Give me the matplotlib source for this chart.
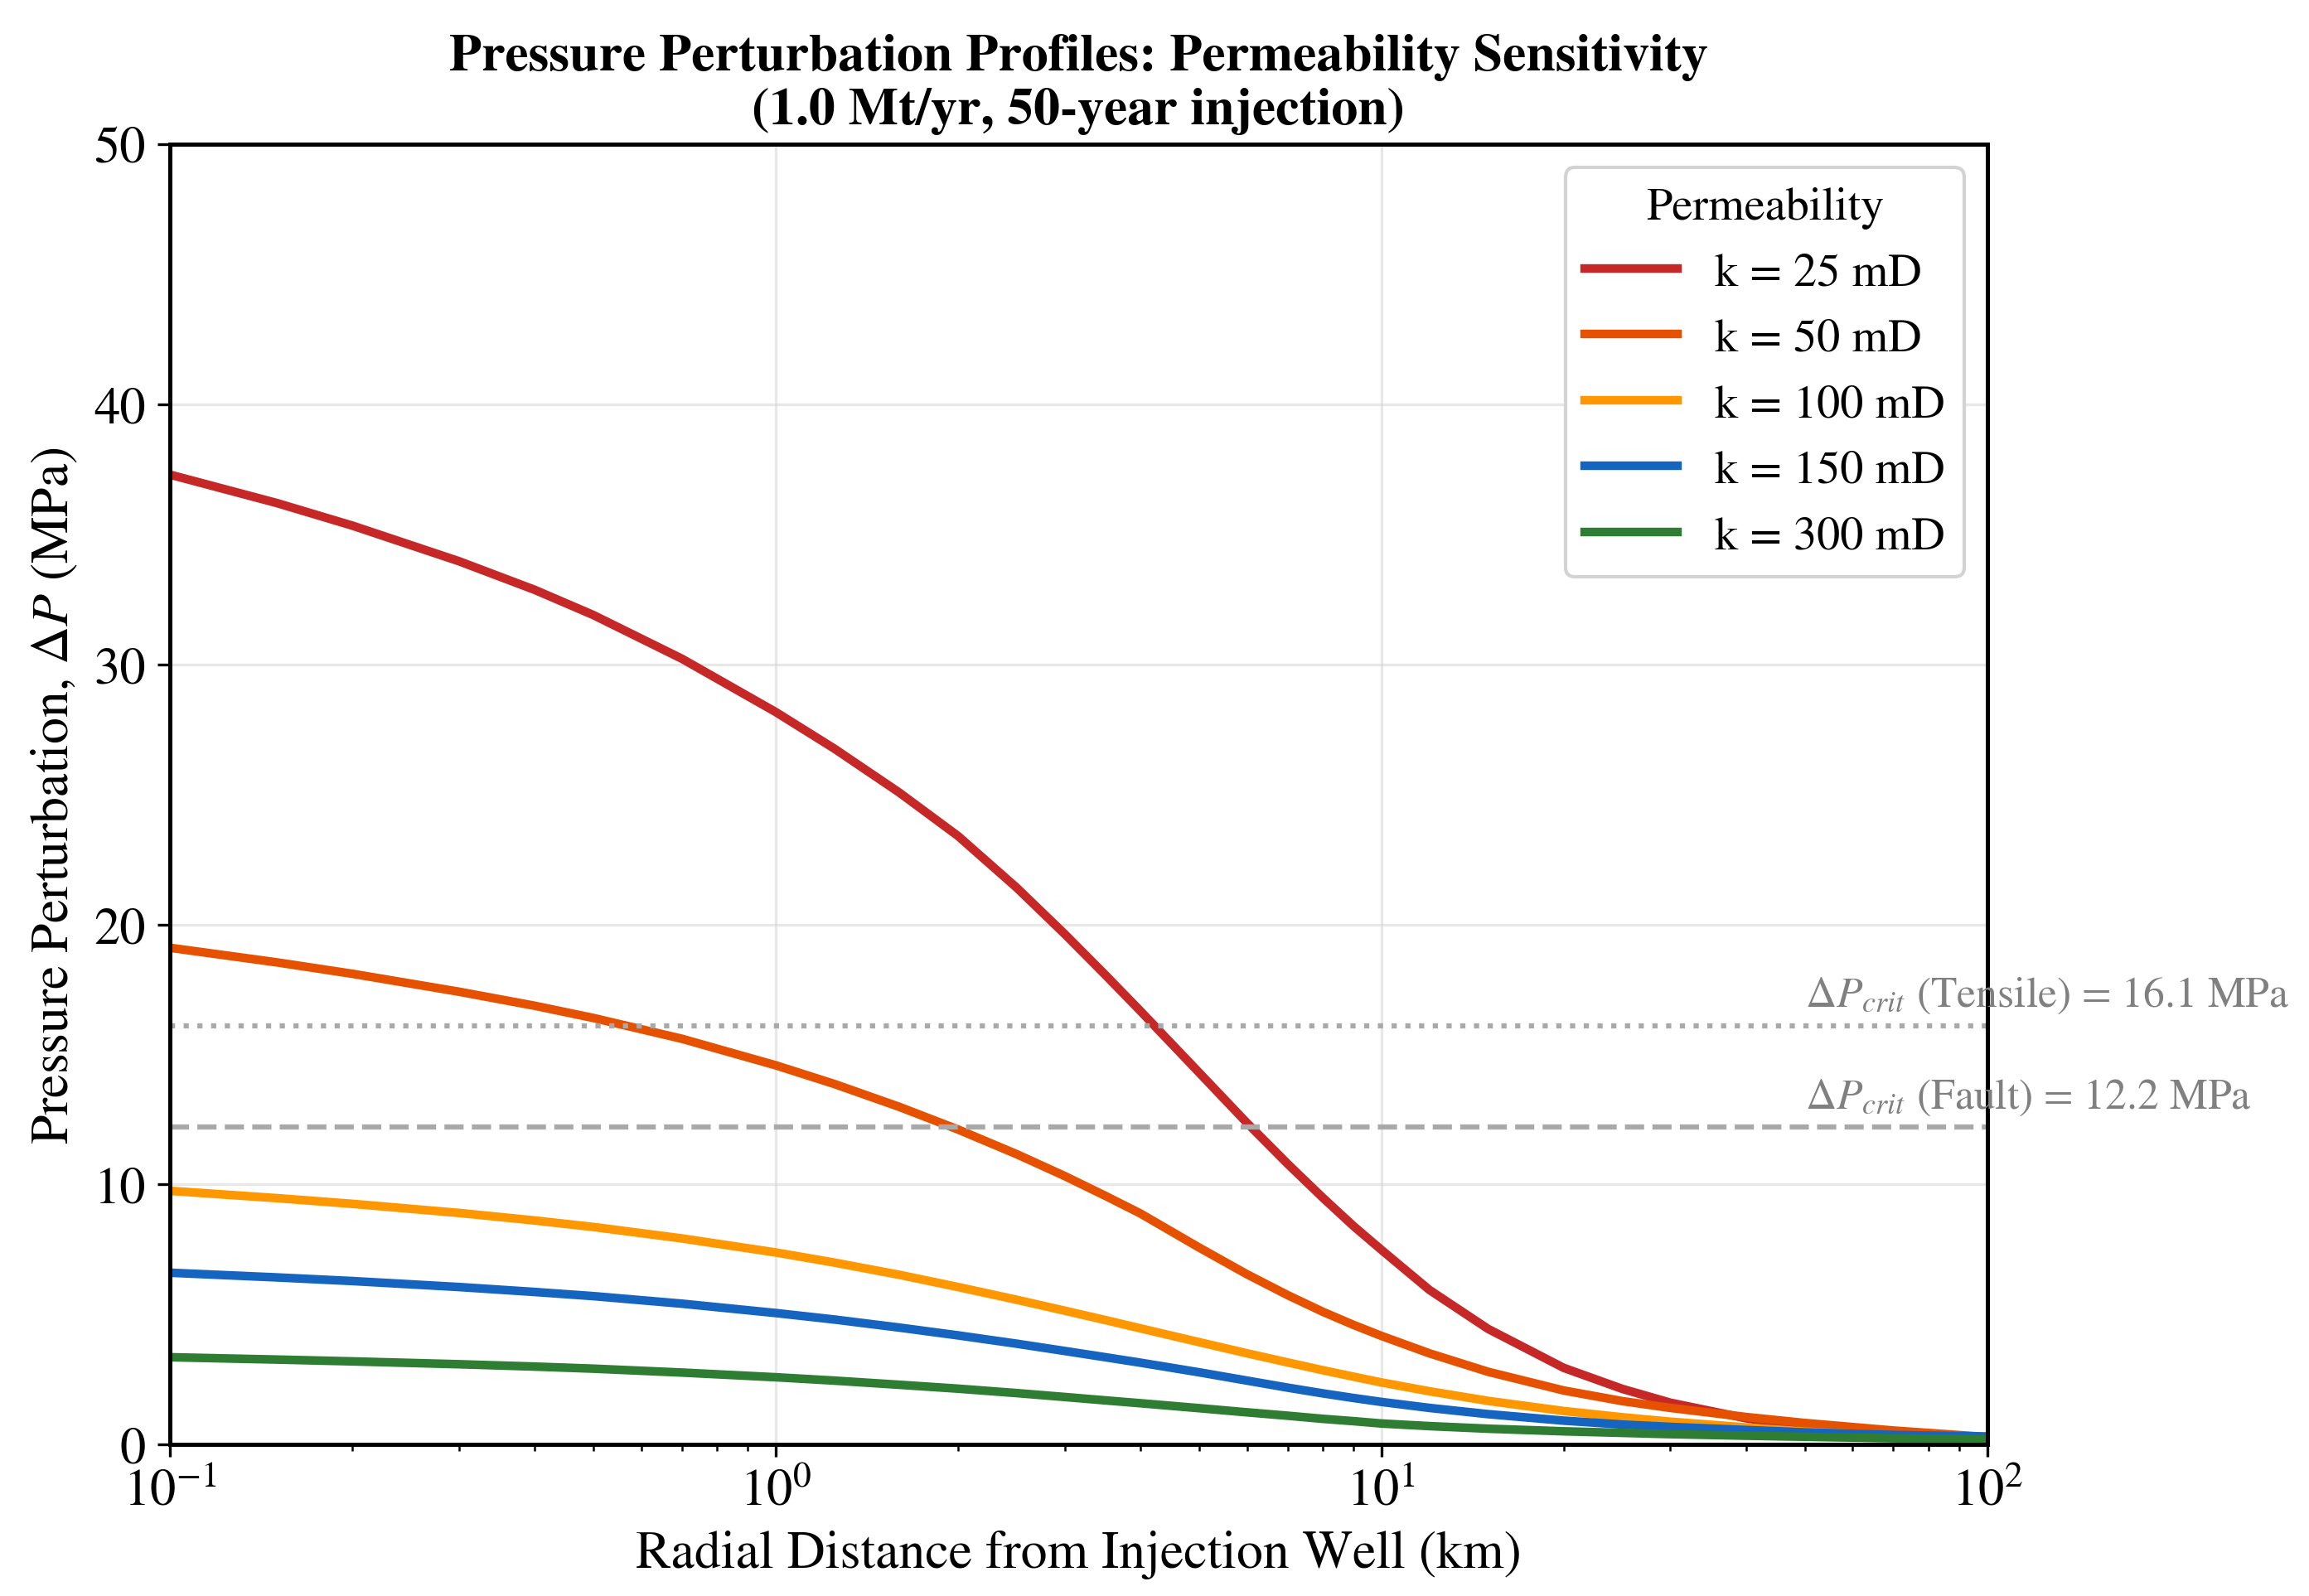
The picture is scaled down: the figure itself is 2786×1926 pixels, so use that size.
import matplotlib
matplotlib.use('Agg')
import matplotlib.pyplot as plt
import numpy as np

plt.rcParams['font.family'] = 'serif'
plt.rcParams['font.serif'] = ['STIXGeneral', 'Liberation Serif', 'DejaVu Serif']
plt.rcParams['mathtext.fontset'] = 'stix'

# radial distance (km) and pressure perturbation (MPa)
r_km = [0.1, 0.15, 0.2, 0.3, 0.4, 0.5, 0.7, 1, 1.25, 1.6, 2, 2.5, 3, 3.5, 4,
        5, 6, 7, 8, 9, 10, 12, 15, 20, 25, 30, 40, 50, 70, 100]
dp_25 = [37.3, 36.21, 35.34, 33.97, 32.87, 31.9, 30.22, 28.17, 26.76, 25.07,
         23.4, 21.41, 19.63, 18.06, 16.67, 14.3, 12.36, 10.79, 9.49, 8.39,
         7.48, 5.94, 4.44, 2.94, 2.13, 1.6, 1.0, 0.67, 0.38, 0.25]
dp_50 = [19.1, 18.54, 18.1, 17.41, 16.87, 16.4, 15.6, 14.58, 13.86, 12.98,
         12.11, 11.16, 10.32, 9.56, 8.88, 7.57, 6.54, 5.74, 5.1, 4.59,
         4.17, 3.5, 2.79, 2.07, 1.66, 1.4, 1.05, 0.82, 0.53, 0.28]
dp_100 = [9.75, 9.47, 9.25, 8.9, 8.61, 8.36, 7.92, 7.38, 6.99, 6.52,
          6.05, 5.56, 5.14, 4.78, 4.46, 3.93, 3.5, 3.15, 2.85, 2.6,
          2.38, 2.04, 1.67, 1.28, 1.04, 0.87, 0.65, 0.49, 0.33, 0.25]
dp_150 = [6.6, 6.42, 6.28, 6.05, 5.86, 5.7, 5.41, 5.05, 4.8, 4.49,
          4.19, 3.87, 3.59, 3.35, 3.14, 2.77, 2.45, 2.18, 1.96, 1.78,
          1.63, 1.4, 1.16, 0.91, 0.76, 0.67, 0.55, 0.46, 0.36, 0.3]
dp_300 = [3.35, 3.26, 3.19, 3.08, 2.99, 2.91, 2.76, 2.58, 2.45, 2.29,
          2.14, 1.97, 1.82, 1.69, 1.58, 1.39, 1.23, 1.1, 0.98, 0.89,
          0.8, 0.7, 0.6, 0.5, 0.44, 0.39, 0.33, 0.29, 0.23, 0.18]

perm_labels = ['k = 25 mD', 'k = 50 mD', 'k = 100 mD', 'k = 150 mD', 'k = 300 mD']
colors = ['#C62828', '#E65100', '#FF9800', '#1565C0', '#2E7D32']

dp_tensile = 16.1
dp_fault = 12.2

fig = plt.figure(figsize=(2786/300, 1927/300), dpi=300)
ax = fig.add_axes([0.0736, 0.095, 0.787, 0.814])

for dp, lab, c in zip([dp_25, dp_50, dp_100, dp_150, dp_300], perm_labels, colors):
    ax.plot(r_km, dp, color=c, lw=2.5, label=lab)

ax.axhline(dp_tensile, color='darkgray', ls=':', lw=1.5)
ax.axhline(dp_fault, color='darkgray', ls='--', lw=1.5)
ax.text(50, dp_tensile + 0.4, r'$\Delta P_{crit}$ (Tensile) = %.1f MPa' % dp_tensile,
        color='gray', fontsize=12.4, va='bottom', ha='left')
ax.text(50, dp_fault + 0.4, r'$\Delta P_{crit}$ (Fault) = %.1f MPa' % dp_fault,
        color='gray', fontsize=12.4, va='bottom', ha='left')

ax.set_xscale('log')
ax.set_xlim(0.1, 100)
ax.set_ylim(0, 50)
ax.grid(True, which='major', color='lightgray', alpha=0.5, lw=0.8)
ax.tick_params(axis='both', which='major', labelsize=15)
for s in ax.spines.values():
    s.set_linewidth(1.2)

ax.set_xlabel('Radial Distance from Injection Well (km)', fontsize=15.3)
ax.set_ylabel(r'Pressure Perturbation, $\Delta P$ (MPa)', fontsize=15.3)
ax.set_title('Pressure Perturbation Profiles: Permeability Sensitivity\n(1.0 Mt/yr, 50-year injection)',
             fontsize=15.3, fontweight='bold')

leg = ax.legend(title='Permeability', loc='upper right', fontsize=13.5, title_fontsize=13.5,
                edgecolor='lightgray', framealpha=1.0)

fig.savefig('out.png', dpi=300)
